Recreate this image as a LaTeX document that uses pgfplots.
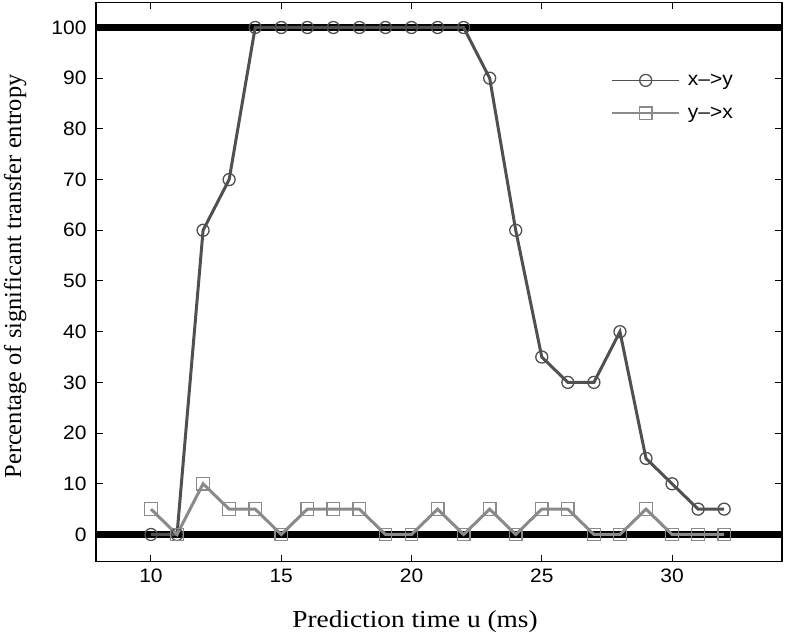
\documentclass[border=0pt]{standalone}
\usepackage{pgfplots}
\pgfplotsset{compat=1.18}
\usepackage{fontspec}
\setmainfont{Liberation Serif}
\setsansfont{Liberation Sans}
\newfontfamily\tickfont[FakeStretch=1.08]{Liberation Sans}
\newfontfamily\xlabfont[FakeStretch=1.12]{Liberation Serif}
\definecolor{dk}{HTML}{505050}
\definecolor{lt}{HTML}{8A8A8A}
\begin{document}
\begin{tikzpicture}
\begin{axis}[
  scale only axis,
  width=686bp, height=559bp,
  xmin=7.89, xmax=34.22, ymin=-5.33, ymax=104.93,
  xtick={10,15,20,25,30}, ytick={0,10,...,100},
  tick align=inside, tick pos=both,
  major tick length=7bp,
  axis line style={line width=1.3bp},
  tick style={line width=1bp, black},
  ticklabel style={font=\tickfont\fontsize{19.5}{22}\selectfont},
  /pgf/number format/assume math mode=true,
  xticklabel style={yshift=-4bp},
  yticklabel style={xshift=-6bp},
  xlabel={Prediction time u (ms)},
  ylabel={Percentage of significant transfer entropy},
  xlabel style={font=\xlabfont\fontsize{24.5}{28}\selectfont, at={(axis description cs:0.5,0)}, anchor=base, yshift=-66bp, xshift=-24bp},
  ylabel style={font=\fontsize{24.5}{28}\selectfont, at={(axis description cs:-0.118,0.51)}, anchor=center},
  legend style={draw=none, fill=none, at={(0.751,0.876)}, anchor=north west, inner sep=0pt,
    font=\tickfont\fontsize{19.5}{22}\selectfont, row sep=16bp, column sep=6bp, nodes={inner sep=2bp}},
  legend cell align=left,
  legend image code/.code={\draw[mark repeat=2,mark phase=2, line width=1.6bp] plot coordinates {(0bp,0bp) (33.5bp,0bp) (67bp,0bp)};},
]
\addplot[black, line width=7.5bp, forget plot] coordinates {(7.89,0) (34.22,0)};
\addplot[black, line width=7.5bp, forget plot] coordinates {(7.89,100) (34.22,100)};
\addplot[dk, line width=3bp, mark=o, mark size=6bp, mark options={line width=1.3bp, fill=none, draw=dk}] coordinates {
(10,0) (11,0) (12,60) (13,70) (14,100) (15,100) (16,100) (17,100) (18,100) (19,100) (20,100) (21,100) (22,100) (23,90) (24,60) (25,35) (26,30) (27,30) (28,40) (29,15) (30,10) (31,5) (32,5)};
\addlegendentry{x\textendash>y}
\addplot[lt, line width=3bp, mark=square, mark size=6.3bp, mark options={line width=1.3bp, fill=none, draw=lt}] coordinates {
(10,5) (11,0) (12,10) (13,5) (14,5) (15,0) (16,5) (17,5) (18,5) (19,0) (20,0) (21,5) (22,0) (23,5) (24,0) (25,5) (26,5) (27,0) (28,0) (29,5) (30,0) (31,0) (32,0)};
\addlegendentry{y\textendash>x}
\end{axis}
\path ([xshift=4bp,yshift=2.5bp]current axis.north east);
\path ([xshift=-96bp,yshift=-72bp]current axis.south west);
\end{tikzpicture}
\end{document}
